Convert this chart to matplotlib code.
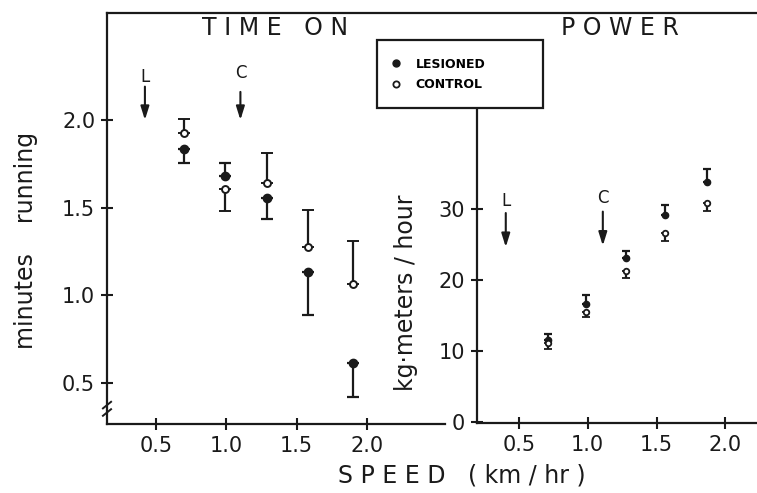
import matplotlib
matplotlib.use("Agg")
import matplotlib.pyplot as plt
from matplotlib.lines import Line2D
from matplotlib.patches import Rectangle

matplotlib.rcParams["font.family"] = "DejaVu Sans"

# Time on treadmill (minutes running)
speed_time = [0.70, 0.99, 1.29, 1.58, 1.90]
lesioned_time = [1.835, 1.68, 1.555, 1.133, 0.614]
lesioned_time_lo = [0.08, 0.0, 0.12, 0.245, 0.195]
lesioned_time_hi = [0.0, 0.075, 0.0, 0.0, 0.0]
control_time = [1.926, 1.606, 1.64, 1.276, 1.065]
control_time_lo = [0.0, 0.125, 0.0, 0.0, 0.0]
control_time_hi = [0.08, 0.0, 0.17, 0.21, 0.245]

# Power (kg-meters / hour)
speed_power = [0.71, 0.985, 1.275, 1.56, 1.87]
lesioned_power = [11.6, 16.7, 23.1, 29.2, 33.9]
lesioned_power_hi = [0.8, 1.2, 1.0, 1.4, 1.8]
control_power = [11.2, 15.6, 21.3, 26.7, 30.9]
control_power_lo = [0.8, 0.7, 0.9, 1.2, 1.1]

time_yticks = [0.5, 1.0, 1.5, 2.0]
power_yticks = [0, 10, 20, 30]
speed_ticks = [0.5, 1.0, 1.5, 2.0]
speed_labels = ["0.5", "1.0", "1.5", "2.0"]

W, H = 757, 493
fig = plt.figure(figsize=(W / 100, H / 100), dpi=100)


def box(x0, y0, x1, y1):
    # pixel box (top-left origin) -> figure fraction rect
    return [x0 / W, 1 - y1 / H, (x1 - x0) / W, (y1 - y0) / H]


ax1 = fig.add_axes(box(107, 13, 445, 424))
ax2 = fig.add_axes(box(477, 13, 757, 423))

ink = "#1a1a1a"
tick_kw = dict(direction="inout", length=9, width=1.5, colors=ink, labelsize=15, pad=4)

# ---- left: time on ----
ax1.errorbar(speed_time, lesioned_time, yerr=[lesioned_time_lo, lesioned_time_hi],
             fmt="o", ms=6, color=ink, mfc=ink, ecolor=ink, elinewidth=1.6,
             capsize=4, capthick=1.6, zorder=3)
ax1.errorbar(speed_time, control_time, yerr=[control_time_lo, control_time_hi],
             fmt="o", ms=5, color=ink, mfc="white", mew=1.4, ecolor=ink,
             elinewidth=1.6, capsize=4, capthick=1.6, zorder=3)
ax1.set_xlim(0.15, 2.557)
ax1.set_ylim(0.266, 2.61)
ax1.set_xticks(speed_ticks)
ax1.set_xticklabels(speed_labels)
ax1.set_yticks(time_yticks)
ax1.set_yticklabels(["0.5", "1.0", "1.5", "2.0"])
ax1.tick_params(**tick_kw)
for s in ["top", "right"]:
    ax1.spines[s].set_visible(False)
for s in ["left", "bottom"]:
    ax1.spines[s].set_linewidth(1.6)
    ax1.spines[s].set_color(ink)

# axis break marks
for yb in (0.028, 0.046):
    ax1.plot([-0.012, 0.012], [yb - 0.008, yb + 0.008], transform=ax1.transAxes,
             color=ink, lw=1.4, clip_on=False)

arrow_kw = dict(arrowstyle="-|>,head_length=0.8,head_width=0.25", color=ink, lw=1.5,
                shrinkA=0, shrinkB=0)
ax1.annotate("", xy=(0.42, 2.0), xytext=(0.42, 2.19), arrowprops=arrow_kw)
ax1.text(0.42, 2.245, "L", ha="center", va="center", fontsize=12, color=ink)
ax1.annotate("", xy=(1.1, 2.0), xytext=(1.1, 2.16), arrowprops=arrow_kw)
ax1.text(1.1, 2.27, "C", ha="center", va="center", fontsize=12, color=ink)

# ---- right: power ----
ax2.errorbar(speed_power, lesioned_power, yerr=[[0] * 5, lesioned_power_hi],
             fmt="o", ms=4.5, color=ink, mfc=ink, ecolor=ink, elinewidth=1.6,
             capsize=3, capthick=1.6, zorder=3)
ax2.errorbar(speed_power, control_power, yerr=[control_power_lo, [0] * 5],
             fmt="o", ms=4, color=ink, mfc="white", mew=1.3, ecolor=ink,
             elinewidth=1.6, capsize=3, capthick=1.6, zorder=3)
ax2.set_xlim(0.196, 2.23)
ax2.set_ylim(-0.1, 57.7)
ax2.set_xticks(speed_ticks)
ax2.set_xticklabels(speed_labels)
ax2.set_yticks(power_yticks)
ax2.tick_params(**tick_kw)
for s in ["top", "right"]:
    ax2.spines[s].set_visible(False)
for s in ["left", "bottom"]:
    ax2.spines[s].set_linewidth(1.6)
    ax2.spines[s].set_color(ink)
ax2.spines["left"].set_bounds(-0.1, 44.7)

ax2.annotate("", xy=(0.405, 24.7), xytext=(0.405, 29.5), arrowprops=arrow_kw)
ax2.text(0.405, 31.2, "L", ha="center", va="center", fontsize=12, color=ink)
ax2.annotate("", xy=(1.11, 24.9), xytext=(1.11, 29.7), arrowprops=arrow_kw)
ax2.text(1.11, 31.6, "C", ha="center", va="center", fontsize=12, color=ink)

# shared top border
fig.add_artist(Line2D([107 / W, 1.0], [1 - 13 / H] * 2, color=ink, lw=1.6))

# titles
fig.text(275 / W, 1 - 28 / H, "T I M E   O N", ha="center", va="center",
         fontsize=17, color=ink)
fig.text(620 / W, 1 - 28 / H, "P O W E R", ha="center", va="center",
         fontsize=17, color=ink)

# axis labels
fig.text(26 / W, 1 - 240 / H, "minutes    running", rotation=90, ha="center",
         va="center", fontsize=17, color=ink)
fig.text(406 / W, 1 - 293 / H, "kg·meters / hour", rotation=90, ha="center",
         va="center", fontsize=17, color=ink)
fig.text(462 / W, 1 - 476 / H, "S P E E D   ( km / hr )", ha="center",
         va="center", fontsize=17, color=ink)

# legend box
fig.add_artist(Rectangle((377 / W, 1 - 108 / H), (543 - 377) / W, (108 - 40) / H,
                         transform=fig.transFigure, fill=True, facecolor="white",
                         edgecolor=ink, lw=1.6, zorder=5))
handles = [
    Line2D([], [], ls="none", marker="o", ms=5, color=ink, mfc=ink),
    Line2D([], [], ls="none", marker="o", ms=4.5, color=ink, mfc="white", mew=1.3),
]
leg = fig.legend(handles, ["LESIONED", "CONTROL"], loc="upper left",
                 bbox_to_anchor=(383 / W, 1 - 50 / H), frameon=False,
                 prop=dict(size=9, weight="bold"), handlelength=0.8,
                 handletextpad=1.2, labelspacing=0.6, borderpad=0.1)
leg.set_zorder(6)

fig.savefig("out.png", dpi=100)
